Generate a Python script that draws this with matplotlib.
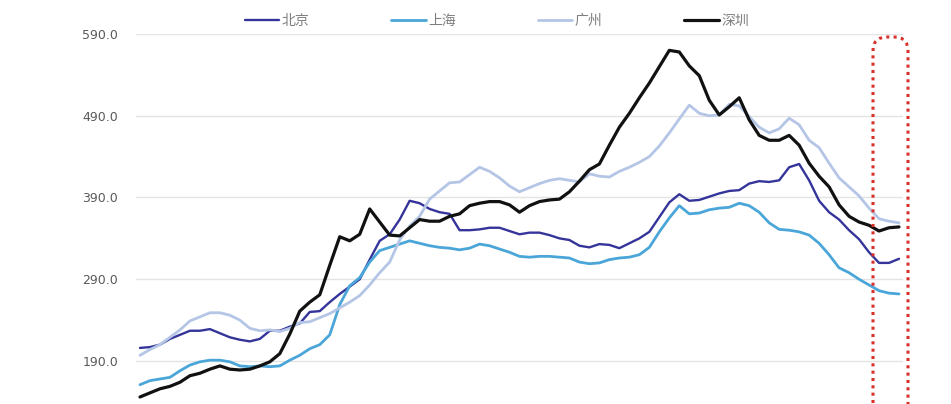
import matplotlib
matplotlib.use("Agg")
import matplotlib.pyplot as plt
from matplotlib.patches import FancyBboxPatch
from matplotlib.transforms import IdentityTransform

plt.rcParams['font.family'] = ['Noto Sans CJK SC', 'DejaVu Sans']

series_names = ["北京", "上海", "广州", "深圳"]
months = list(range(77))

beijing = [206, 207, 210, 217, 222, 227, 227, 229, 224, 219, 216, 214, 217, 227, 227, 232,
           236, 250, 251, 262, 272, 281, 290, 314, 337, 345, 363, 386, 383, 376, 372, 370,
           350, 350, 351, 353, 353, 349, 345, 347, 347, 344, 340, 338, 331, 329, 333, 332,
           328, 334, 340, 348, 366, 384, 394, 386, 387, 391, 395, 398, 399, 407, 410, 409,
           411, 427, 431, 411, 386, 372, 363, 350, 339, 323, 310, 310, 315]
shanghai = [161, 166, 168, 170, 178, 185, 189, 191, 191, 189, 184, 183, 184, 183, 184, 191,
            197, 205, 210, 222, 259, 282, 292, 311, 325, 329, 333, 337, 334, 331, 329, 328,
            326, 328, 333, 331, 327, 323, 318, 317, 318, 318, 317, 316, 311, 309, 310, 314,
            316, 317, 320, 329, 348, 365, 380, 370, 371, 375, 377, 378, 383, 380, 372, 359,
            351, 350, 348, 344, 334, 320, 304, 298, 290, 283, 276, 273, 272]
guangzhou = [197, 204, 210, 219, 228, 239, 244, 249, 249, 246, 240, 230, 227, 228, 226, 230,
             237, 238, 243, 248, 255, 262, 270, 283, 298, 311, 338, 355, 367, 388, 398, 408,
             409, 418, 427, 422, 414, 404, 397, 402, 407, 411, 413, 411, 409, 419, 416, 415,
             422, 427, 433, 440, 453, 469, 486, 503, 493, 490, 491, 504, 502, 489, 476, 469,
             474, 487, 479, 460, 451, 432, 414, 403, 392, 377, 364, 361, 359]
shenzhen = [146, 151, 156, 159, 164, 172, 175, 180, 184, 180, 179, 180, 184, 189, 199, 223,
            251, 262, 271, 307, 342, 337, 345, 376, 360, 344, 343, 353, 363, 361, 361, 367,
            370, 380, 383, 385, 385, 381, 372, 380, 385, 387, 388, 397, 410, 424, 431, 454,
            476, 493, 512, 530, 550, 570, 568, 551, 539, 509, 491, 501, 512, 485, 466, 460,
            460, 466, 454, 432, 416, 403, 381, 367, 360, 356, 349, 353, 354]
y_ticks = [190, 290, 390, 490, 590]

colors = ["#34349A", "#4AA6D8", "#B4C5E6", "#111111"]
widths = [1.7, 2.0, 2.0, 2.3]

W, H = 951, 404
fig = plt.figure(figsize=(W / 100, H / 100), dpi=100)
fig.patch.set_facecolor("white")
ax = fig.add_axes([136 / W, 0.0, (903 - 136) / W, (H - 34) / H])
ax.set_facecolor("white")

for name, vals, c, w in zip(series_names, [beijing, shanghai, guangzhou, shenzhen], colors, widths):
    ax.plot(months, vals, color=c, lw=w, label=name, solid_joinstyle='round', solid_capstyle='round')

ax.set_xlim(-0.4, 76.4)
ax.set_ylim(137.4, 590)
ax.set_yticks(y_ticks)
ax.set_yticklabels([f"{v:.1f}" for v in y_ticks], fontsize=9, color="#595959",
                   family=['DejaVu Sans'])
ax.tick_params(axis='y', length=0, pad=13)
ax.set_xticks([])
for s in ax.spines.values():
    s.set_visible(False)
ax.yaxis.grid(True, color="#E4E4E4", lw=1.0)
ax.set_axisbelow(True)

fig.legend(loc='center', bbox_to_anchor=(497 / W, 1 - 21 / H), ncol=4, frameon=False,
           fontsize=10, handlelength=2.45, handletextpad=0.2, columnspacing=5.9,
           labelcolor="#7F7F7F")

# red dotted rounded highlight box (pixel coordinates, origin bottom-left)
box = FancyBboxPatch((873, -30), 35, (H - 37) + 30,
                     boxstyle="round,pad=0,rounding_size=14",
                     transform=IdentityTransform(), fill=False, edgecolor="#D9302C",
                     lw=2.2, linestyle=(0, (1.0, 1.4)))
fig.patches.append(box)

fig.savefig("out.png", dpi=100, facecolor="white")
